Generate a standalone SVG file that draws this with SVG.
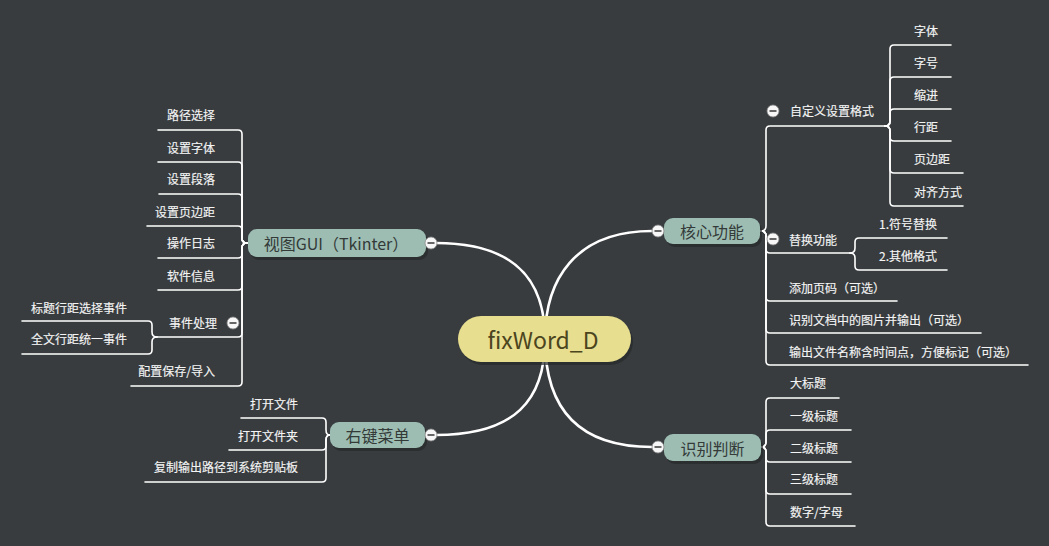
<svg xmlns="http://www.w3.org/2000/svg" width="1049" height="546" viewBox="0 0 1049 546">
<style>
text{font-family:"Noto Sans CJK SC","Noto Sans",sans-serif;dominant-baseline:central}
.leaf{font-size:12px;fill:#f4f4f4;stroke:#f4f4f4;stroke-width:0.15}
.end{text-anchor:end}
.mid{text-anchor:middle}
.node{fill:#9dbdb3}
.shadow{fill:#26292b;opacity:0.7}
.ntext{font-size:16px;fill:#333a38}
.lnk{fill:none;stroke:#ffffff;stroke-width:1.6;stroke-linecap:round;stroke-linejoin:round}
.main{fill:none;stroke:#ffffff;stroke-width:2.6;stroke-linecap:round}
.cbtn{fill:#f7f7f7;stroke:#8a8a8a;stroke-width:0.8}
.cminus{stroke:#555;stroke-width:1.8}
</style>
<defs>
<g id="collapse"><circle class="cbtn" cx="0" cy="0" r="6"/><line class="cminus" x1="-3.5" y1="0" x2="3.5" y2="0"/></g>
</defs>
<rect width="1049" height="546" fill="#383c3f"/>

<g id="connectors">
<path class="main" d="M545,339 C545,280 515,243 436,243"/>
<path class="main" d="M545,339 C545,280 575,231 652,231"/>
<path class="main" d="M545,339 C545,400 515,435 436,435"/>
<path class="main" d="M545,339 C545,405 575,447 652,447"/>

<path class="lnk" d="M247,243 Q242,243 242,238 L242,134 Q242,130 238,130 L158,130"/>
<path class="lnk" d="M247,243 Q242,243 242,238 L242,166 Q242,162 238,162 L158,162"/>
<path class="lnk" d="M247,243 Q242,243 242,238 L242,198 Q242,194 238,194 L159,194"/>
<path class="lnk" d="M247,243 Q242,243 242,238 L242,230 Q242,226 238,226 L147,226"/>
<path class="lnk" d="M247,243 Q242,243 242,248 L242,254 Q242,258 238,258 L158,258"/>
<path class="lnk" d="M247,243 Q242,243 242,248 L242,286 Q242,290 238,290 L158,290"/>
<path class="lnk" d="M247,243 Q242,243 242,248 L242,333 Q242,337 238,337 L157,337"/>
<path class="lnk" d="M247,243 Q242,243 242,248 L242,382 Q242,386 238,386 L131,386"/>

<path class="lnk" d="M157,337 Q152,337 152,332 L152,325 Q152,321 148,321 L22,321"/>
<path class="lnk" d="M157,337 Q152,337 152,342 L152,350 Q152,354 148,354 L22,354"/>

<path class="lnk" d="M330,435 Q326,435 326,430 L326,422 Q326,418 322,418 L241,418"/>
<path class="lnk" d="M330,435 Q326,435 326,440 L326,446 Q326,450 322,450 L229,450"/>
<path class="lnk" d="M330,435 Q326,435 326,440 L326,478 Q326,482 322,482 L145,482"/>

<path class="lnk" d="M761,231 Q766,231 766,226 L766,130 Q766,126 770,126 L885,126"/>
<path class="lnk" d="M761,231 Q766,231 766,236 L766,249 Q766,253 770,253 L850,253"/>
<path class="lnk" d="M761,231 Q766,231 766,236 L766,297 Q766,301 770,301 L897,301"/>
<path class="lnk" d="M761,231 Q766,231 766,236 L766,329 Q766,333 770,333 L981,333"/>
<path class="lnk" d="M761,231 Q766,231 766,236 L766,361 Q766,365 770,365 L1028,365"/>

<path class="lnk" d="M885,126 Q890,126 890,121 L890,49 Q890,45 894,45 L951,45"/>
<path class="lnk" d="M885,126 Q890,126 890,121 L890,81 Q890,77 894,77 L951,77"/>
<path class="lnk" d="M885,126 Q890,126 890,121 L890,113 Q890,109 894,109 L951,109"/>
<path class="lnk" d="M885,126 Q890,126 890,131 L890,137 Q890,141 894,141 L951,141"/>
<path class="lnk" d="M885,126 Q890,126 890,131 L890,169 Q890,173 894,173 L963,173"/>
<path class="lnk" d="M885,126 Q890,126 890,131 L890,202 Q890,206 894,206 L963,206"/>

<path class="lnk" d="M850,253 Q855,253 855,248 L855,242 Q855,238 859,238 L947,238"/>
<path class="lnk" d="M850,253 Q855,253 855,258 L855,266 Q855,270 859,270 L947,270"/>

<path class="lnk" d="M761,447 Q766,447 766,442 L766,402 Q766,398 770,398 L839,398"/>
<path class="lnk" d="M761,447 Q766,447 766,442 L766,434 Q766,430 770,430 L851,430"/>
<path class="lnk" d="M761,447 Q766,447 766,452 L766,458 Q766,462 770,462 L851,462"/>
<path class="lnk" d="M761,447 Q766,447 766,452 L766,490 Q766,494 770,494 L851,494"/>
<path class="lnk" d="M761,447 Q766,447 766,452 L766,522 Q766,526 770,526 L855,526"/>
</g>

<g id="central">
<rect class="shadow" x="460" y="319" width="173" height="46" rx="23"/>
<rect x="458" y="316" width="173" height="46" rx="23" fill="#e8de8f"/>
<text class="mid" x="543" y="339" font-size="23" fill="#4b4520">fixWord_D</text>
</g>

<g id="n-gui">
<rect class="shadow" x="250" y="232" width="178" height="28" rx="9"/>
<rect class="node" x="248" y="229" width="178" height="28" rx="9"/>
<text class="ntext mid" x="336" y="243">视图GUI（Tkinter）</text>
<use href="#collapse" x="431" y="243"/>
</g>
<g id="n-core">
<rect class="shadow" x="666" y="221" width="96" height="26" rx="9"/>
<rect class="node" x="664" y="218" width="96" height="26" rx="9"/>
<text class="ntext mid" x="712" y="231">核心功能</text>
<use href="#collapse" x="658" y="231"/>
</g>
<g id="n-menu">
<rect class="shadow" x="332" y="425" width="95" height="26" rx="9"/>
<rect class="node" x="330" y="422" width="95" height="26" rx="9"/>
<text class="ntext mid" x="377.5" y="435">右键菜单</text>
<use href="#collapse" x="431" y="435"/>
</g>
<g id="n-detect">
<rect class="shadow" x="666" y="437" width="97" height="27" rx="9"/>
<rect class="node" x="664" y="434" width="97" height="27" rx="9"/>
<text class="ntext mid" x="712.5" y="447.5">识别判断</text>
<use href="#collapse" x="658" y="447"/>
</g>

<g id="gui-children">
<text class="leaf end" x="215" y="114">路径选择</text>
<text class="leaf end" x="215" y="147">设置字体</text>
<text class="leaf end" x="215" y="178">设置段落</text>
<text class="leaf end" x="215" y="211">设置页边距</text>
<text class="leaf end" x="215" y="242">操作日志</text>
<text class="leaf end" x="215" y="275">软件信息</text>
<g id="n-event">
<text class="leaf end" x="217" y="322">事件处理</text>
<use href="#collapse" x="233" y="323"/>
</g>
<text class="leaf end" x="215" y="370">配置保存/导入</text>
<text class="leaf end" x="127" y="307">标题行距选择事件</text>
<text class="leaf end" x="127" y="338">全文行距统一事件</text>
</g>

<g id="menu-children">
<text class="leaf end" x="298" y="403">打开文件</text>
<text class="leaf end" x="298" y="435">打开文件夹</text>
<text class="leaf end" x="298" y="466">复制输出路径到系统剪贴板</text>
</g>

<g id="core-children">
<g id="n-custom">
<text class="leaf" x="790" y="110">自定义设置格式</text>
<use href="#collapse" x="773" y="111"/>
</g>
<text class="leaf" x="914" y="30">字体</text>
<text class="leaf" x="914" y="62">字号</text>
<text class="leaf" x="914" y="94">缩进</text>
<text class="leaf" x="914" y="126">行距</text>
<text class="leaf" x="914" y="158">页边距</text>
<text class="leaf" x="914" y="191">对齐方式</text>
<g id="n-replace">
<text class="leaf" x="789" y="239">替换功能</text>
<use href="#collapse" x="773" y="239"/>
</g>
<text class="leaf" x="879" y="223">1.符号替换</text>
<text class="leaf" x="879" y="255">2.其他格式</text>
<text class="leaf" x="789" y="287">添加页码（可选）</text>
<text class="leaf" x="789" y="319">识别文档中的图片并输出（可选）</text>
<text class="leaf" x="789" y="351">输出文件名称含时间点，方便标记（可选）</text>
</g>

<g id="detect-children">
<text class="leaf" x="790" y="382">大标题</text>
<text class="leaf" x="790" y="415">一级标题</text>
<text class="leaf" x="790" y="447">二级标题</text>
<text class="leaf" x="790" y="478">三级标题</text>
<text class="leaf" x="790" y="511">数字/字母</text>
</g>
</svg>
